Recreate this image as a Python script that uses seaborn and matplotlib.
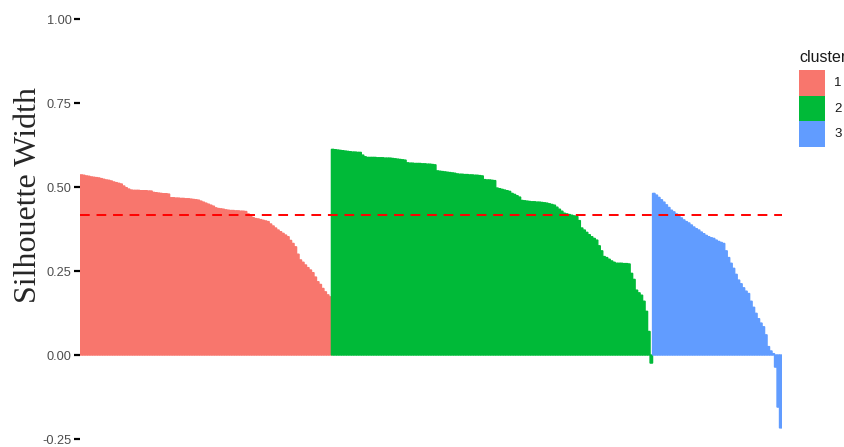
import numpy as np
import pandas as pd
import matplotlib
matplotlib.use("Agg")
import matplotlib.pyplot as plt
from matplotlib.patches import Rectangle
import seaborn as sns

# Silhouette widths per observation, sorted within each cluster
sil_cluster1 = [
    0.536, 0.535, 0.533, 0.532, 0.530,
    0.529, 0.528, 0.527, 0.525,
    0.523, 0.521, 0.520, 0.518,
    0.515, 0.513, 0.511, 0.509,
    0.503, 0.498, 0.494,
    0.491, 0.490, 0.490, 0.490, 0.489, 0.489, 0.489, 0.488, 0.488,
    0.484, 0.483, 0.482, 0.481, 0.480, 0.480, 0.479,
    0.468, 0.468, 0.467, 0.467, 0.466, 0.466, 0.465, 0.465, 0.464, 0.463, 0.462, 0.461,
    0.458, 0.455, 0.452, 0.449, 0.446, 0.443,
    0.438, 0.436, 0.435, 0.434,
    0.432, 0.431, 0.430, 0.430, 0.429, 0.429, 0.428, 0.428, 0.427,
    0.420, 0.414, 0.409,
    0.406, 0.405, 0.403, 0.401, 0.399, 0.397,
    0.390, 0.384, 0.378,
    0.372, 0.367, 0.362, 0.357, 0.352,
    0.341, 0.332, 0.322,
    0.300, 0.283,
    0.276, 0.268, 0.260, 0.253,
    0.245, 0.232, 0.218,
    0.210, 0.198, 0.188, 0.179,
    0.173,
]
sil_cluster2 = [
    0.612, 0.611, 0.610, 0.609, 0.608, 0.607, 0.606, 0.605, 0.604, 0.604, 0.603, 0.603,
    0.595, 0.590,
    0.588, 0.588, 0.588, 0.588, 0.587, 0.587, 0.587, 0.586, 0.586, 0.586, 0.585, 0.584,
    0.583, 0.582, 0.581, 0.580,
    0.572, 0.571, 0.571, 0.570, 0.570, 0.570, 0.569, 0.569, 0.568, 0.568, 0.567, 0.566,
    0.548, 0.547, 0.546, 0.545, 0.544, 0.543, 0.542, 0.541,
    0.539, 0.538, 0.538, 0.537, 0.537, 0.536, 0.536, 0.535, 0.535, 0.534, 0.533,
    0.522, 0.521, 0.521, 0.520, 0.519,
    0.497, 0.495, 0.493, 0.491, 0.489, 0.487,
    0.481, 0.478, 0.474, 0.470,
    0.460, 0.459, 0.458, 0.457, 0.456, 0.456, 0.455, 0.455, 0.454, 0.453, 0.452, 0.450,
    0.448, 0.446,
    0.440, 0.434, 0.428, 0.422,
    0.420, 0.418, 0.416, 0.414, 0.412,
    0.400, 0.378,
    0.372, 0.365, 0.358, 0.352, 0.347, 0.342,
    0.325, 0.310, 0.293,
    0.290, 0.285, 0.280, 0.276, 0.273,
    0.273, 0.273, 0.272, 0.272, 0.271,
    0.243, 0.225,
    0.193, 0.185, 0.178,
    0.160, 0.130,
    0.070,
    -0.024,
]
sil_cluster3 = [
    0.481, 0.476, 0.469, 0.462, 0.455, 0.447, 0.439, 0.431,
    0.426, 0.420, 0.414, 0.408, 0.402, 0.397,
    0.393, 0.387, 0.381, 0.376, 0.372,
    0.366, 0.361, 0.356, 0.352, 0.349, 0.347,
    0.342, 0.338, 0.335, 0.332,
    0.310, 0.290, 0.273,
    0.258, 0.240, 0.223,
    0.212, 0.200, 0.190, 0.183,
    0.160, 0.142, 0.124,
    0.108, 0.095, 0.084,
    0.060, 0.025,
    0.012, 0.004,
    -0.036, -0.155, -0.217,
]
cluster_labels = ["1", "2", "3"]
cluster_colors = ["#F8766D", "#00BA38", "#619CFF"]

widths = sil_cluster1 + sil_cluster2 + sil_cluster3
clusters = (["1"] * len(sil_cluster1) + ["2"] * len(sil_cluster2)
            + ["3"] * len(sil_cluster3))
df = pd.DataFrame({"obs": np.arange(len(widths)), "sil_width": widths,
                   "cluster": clusters})
avg_width = df["sil_width"].mean()

sns.set_style("white")
W, H = 845, 447
fig = plt.figure(figsize=(W / 100, H / 100), dpi=100)
ax = fig.add_axes([80 / W, 0.0, 702 / W, 1.0])

sns.barplot(data=df, x="obs", y="sil_width", hue="cluster",
            hue_order=cluster_labels, palette=cluster_colors, saturation=1,
            native_scale=True, dodge=False, width=1.0, legend=False, ax=ax)
for p in ax.patches:
    p.set_edgecolor(p.get_facecolor())
    p.set_linewidth(1.0)
    p.set_snap(False)

# average silhouette width
ax.axhline(avg_width, color="#FF0000", linestyle=(0, (5, 3.5)), linewidth=1.4)

ax.set_xlim(-0.5, len(widths) - 0.5)
ax.set_ylim(-(H - 355) / 336, 355 / 336)
ax.set_yticks([-0.25, 0.0, 0.25, 0.5, 0.75, 1.0])
ax.set_yticklabels(["-0.25", "0.00", "0.25", "0.50", "0.75", "1.00"])
ax.set_xticks([])
ax.set_xlabel("")
ax.set_ylabel("")
for s in ax.spines.values():
    s.set_visible(False)
ax.tick_params(axis="y", which="both", left=True, length=4, width=1.6,
               color="black", labelsize=9.2, labelcolor="#4D4D4D", pad=2)
for t in ax.get_yticklabels():
    t.set_fontfamily("Liberation Sans")

fig.text(29 / W, 1 - 195 / H, "Silhouette Width", rotation=90,
         ha="center", va="center", fontsize=23, family="Liberation Serif")

# legend keys, drawn in figure pixels
fig.text(799 / W, 1 - 57 / H, "cluster", ha="left", va="center",
         fontsize=11.5, family="Liberation Sans", color="#1A1A1A")
key_top = 70
key_h = 25.7
for i, (lab, col) in enumerate(zip(cluster_labels, cluster_colors)):
    y0 = key_top + i * key_h
    fig.patches.append(Rectangle((799 / W, 1 - (y0 + key_h) / H), 26 / W,
                                 key_h / H, transform=fig.transFigure,
                                 facecolor=col, edgecolor="none"))
    fig.text(834 / W, 1 - (y0 + key_h / 2) / H, lab, ha="left", va="center",
             fontsize=9.5, family="Liberation Sans", color="#1A1A1A")

fig.savefig("out.png", dpi=100)
